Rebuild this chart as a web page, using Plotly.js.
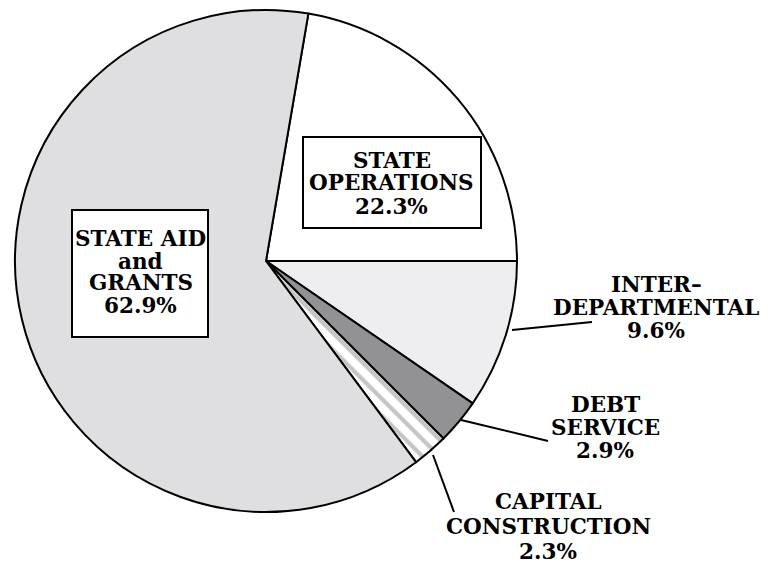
<!DOCTYPE html>
<html>
<head>
<meta charset="utf-8">
<script src="https://cdn.plot.ly/plotly-3.0.1.min.js"></script>
<style>html,body{margin:0;padding:0;background:#fff;}#chart{width:770px;height:563px;}</style>
</head>
<body>
<div id="chart"></div>
<script>
// ---- data ----
var categories = ["STATE OPERATIONS", "INTER-DEPARTMENTAL", "DEBT SERVICE", "CAPITAL CONSTRUCTION", "STATE AID and GRANTS"];
var shares = [22.3, 9.6, 2.9, 2.3, 62.9];
var labelLines = [
  ["STATE", "OPERATIONS"],
  ["INTER\u2013", "DEPARTMENTAL"],
  ["DEBT", "SERVICE"],
  ["CAPITAL", "CONSTRUCTION"],
  ["STATE AID", "and", "GRANTS"]
];
var sliceColors = ["#ffffff", "#eeeef0", "#929294", "#ffffff", "#dfdfe1"];

// ---- layout helpers (pixel -> paper) ----
var W = 770, H = 563;
function px(x) { return x / W; }
function py(y) { return 1 - y / H; }

var FONT = {family: "DejaVu Serif", size: 21.5, color: "#000", weight: "bold"};

// label placement: center x, first line center y, line step (pixels)
var labelPos = [
  {x: 392, y: 160, step: 23},
  {x: 656, y: 284, step: 23},
  {x: 605, y: 404, step: 23},
  {x: 548, y: 501, step: 25},
  {x: 140.5, y: 239, step: 22}
];

var annotations = [];
categories.forEach(function (c, i) {
  var lines = labelLines[i].concat([shares[i].toFixed(1) + "%"]);
  lines.forEach(function (t, j) {
    annotations.push({
      xref: "paper", yref: "paper",
      x: px(labelPos[i].x), y: py(labelPos[i].y + j * labelPos[i].step),
      xanchor: "center", yanchor: "middle",
      text: t, showarrow: false, font: FONT
    });
  });
});

var shapes = [
  // boxes around inside labels
  {type: "rect", xref: "paper", yref: "paper", x0: px(303), x1: px(481), y0: py(137), y1: py(228),
   line: {color: "#000", width: 2}, fillcolor: "#ffffff", layer: "above"},
  {type: "rect", xref: "paper", yref: "paper", x0: px(72), x1: px(208), y0: py(210), y1: py(337),
   line: {color: "#000", width: 2}, fillcolor: "#ffffff", layer: "above"},
  // leader lines
  {type: "line", xref: "paper", yref: "paper", x0: px(512), y0: py(330), x1: px(592), y1: py(322), line: {color: "#000", width: 2}},
  {type: "line", xref: "paper", yref: "paper", x0: px(461), y0: py(420), x1: px(548), y1: py(441), line: {color: "#000", width: 2}},
  {type: "line", xref: "paper", yref: "paper", x0: px(433), y0: py(455), x1: px(454), y1: py(512), line: {color: "#000", width: 2}}
];

var trace = {
  type: "pie",
  labels: categories,
  values: shares,
  sort: false,
  direction: "clockwise",
  rotation: 360 * (1 - (shares[0]) / 100) - 270,
  textinfo: "none",
  hoverinfo: "label+percent",
  domain: {x: [px(15), px(517)], y: [py(512), py(10)]},
  marker: {
    colors: sliceColors,
    line: {color: "#000", width: 2},
    pattern: {
      shape: ["", "", "", "\\", ""],
      fgcolor: "#c4c4c4",
      bgcolor: sliceColors,
      size: 12,
      solidity: 0.35
    }
  },
  automargin: false
};

var layout = {
  width: W, height: H,
  margin: {l: 0, r: 0, t: 0, b: 0},
  paper_bgcolor: "#ffffff",
  showlegend: false,
  annotations: annotations,
  shapes: shapes
};

Plotly.newPlot("chart", [trace], layout, {displayModeBar: false, staticPlot: true});
</script>
</body>
</html>
